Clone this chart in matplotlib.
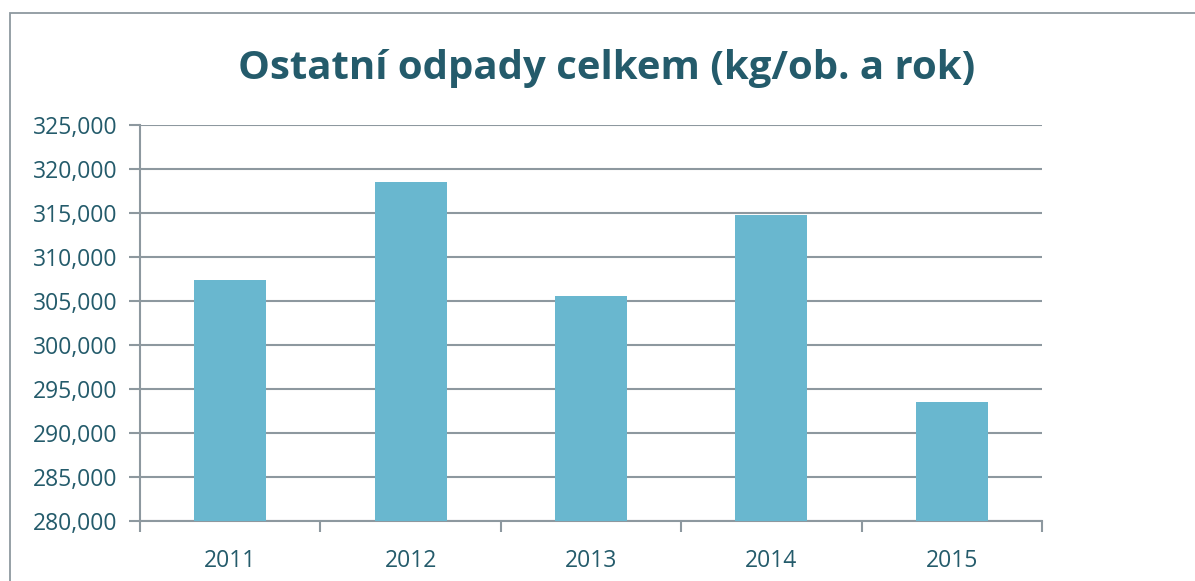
import numpy as np
import matplotlib
matplotlib.use("Agg")
import matplotlib.pyplot as plt
import matplotlib.ticker as ticker
from matplotlib.patches import Rectangle

years = ['2011', '2012', '2013', '2014', '2015']
values = [307400, 318500, 305600, 314750, 293550]
y_ticks = [280000, 285000, 290000, 295000, 300000, 305000, 310000, 315000, 320000, 325000]

TEXT = '#245B6B'
GRID = '#8D989F'
BAR = '#69B7CF'

W, H = 1195, 581
fig = plt.figure(figsize=(W / 100, H / 100), dpi=100)
ax = fig.add_axes([140 / W, (H - 521) / H, (1042 - 140) / W, (521 - 125) / H])

# outer chart frame (clipped at right/bottom like the reference)
fig.patches.append(Rectangle((10 / W, -0.1), 1.2, (H - 13) / H + 0.1,
                             transform=fig.transFigure, fill=False,
                             edgecolor=GRID, lw=1.3))

x = np.arange(len(years))
ax.bar(x, values, width=0.4, color=BAR, zorder=3)

ax.set_xlim(-0.5, len(years) - 0.5)
ax.set_ylim(y_ticks[0], y_ticks[-1])
ax.set_yticks(y_ticks)
ax.yaxis.set_major_formatter(ticker.FuncFormatter(lambda v, p: f'{int(v):,}'))
ax.yaxis.grid(True, color=GRID, lw=1.5, zorder=1)

ax.set_xticks(x)
ax.set_xticklabels(years)
ax.set_xticks(np.arange(-0.5, len(years)), minor=True)
ax.tick_params(axis='x', which='major', length=0, pad=20, labelsize=16.5, labelcolor=TEXT)
ax.tick_params(axis='x', which='minor', length=8, width=1.5, color=GRID, direction='out')
ax.tick_params(axis='y', length=8, width=1.5, color=GRID, pad=8, labelsize=16.5, labelcolor=TEXT)

for s in ['top', 'right']:
    ax.spines[s].set_visible(False)
for s in ['left', 'bottom']:
    ax.spines[s].set_color(GRID)
    ax.spines[s].set_linewidth(1.5)

for lbl in ax.get_xticklabels() + ax.get_yticklabels():
    lbl.set_fontfamily('Open Sans')

fig.text(607 / W, (H - 68) / H, 'Ostatní odpady celkem (kg/ob. a rok)',
         ha='center', va='center', fontsize=28.9, fontweight='bold',
         color=TEXT, family='Open Sans')

fig.savefig('out.png', dpi=100)
